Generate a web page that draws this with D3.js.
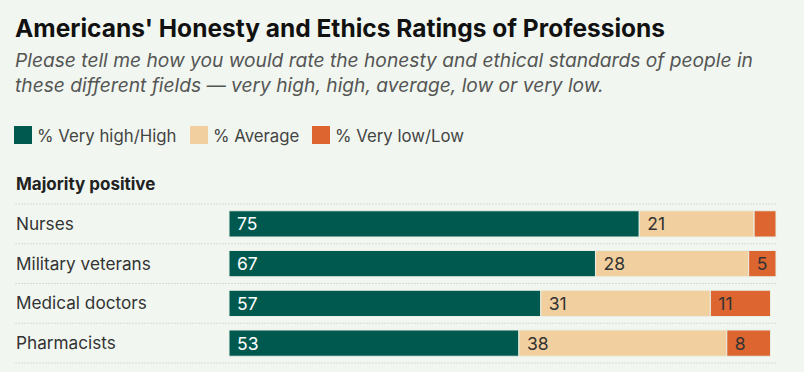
<!DOCTYPE html>
<html>
<head>
<meta charset="utf-8">
<script src="https://cdn.jsdelivr.net/npm/d3@7"></script>
<style>
  body { margin: 0; background: #f1f7f0; }
  svg { display: block; font-family: Inter, "Open Sans", sans-serif; }
</style>
</head>
<body>
<div id="chart"></div>
<script>
var width = 804;
var height = 372;
var bgColor = '#f1f7f0';

// data
var professions = ['Nurses', 'Military veterans', 'Medical doctors', 'Pharmacists'];
var veryHighHigh = [75, 67, 57, 53];
var average = [21, 28, 31, 38];
var veryLowLow = [4, 5, 11, 8];
var seriesKeys = ['high', 'average', 'low'];
var legendLabels = ['% Very high/High', '% Average', '% Very low/Low'];
var colors = ['#00594f', '#f2cf9e', '#dc6530'];
var labelColors = ['#ffffff', '#333333', '#333333'];

var rows = professions.map(function(p, i) {
      return { name: p, high: veryHighHigh[i], average: average[i], low: veryLowLow[i] };
});

var svg = d3.select('#chart').append('svg')
      .attr('width', width)
      .attr('height', height)

svg.append('rect')
      .attr('width', width)
      .attr('height', height)
      .attr('fill', bgColor)

// title and subtitle
svg.append('text')
      .attr('x', 15)
      .attr('y', 37)
      .style('font-size', '24.5px')
      .style('font-weight', 700)
      .style('fill', '#111')
      .text("Americans' Honesty and Ethics Ratings of Professions")

var subtitle = ['Please tell me how you would rate the honesty and ethical standards of people in',
      'these different fields \u2014 very high, high, average, low or very low.'];
svg.selectAll('.subtitle')
      .data(subtitle)
      .enter().append('text')
      .attr('class', 'subtitle')
      .attr('x', 15)
      .attr('y', (d, i) => 67 + i * 25)
      .style('font-size', '19.2px')
      .style('font-style', 'italic')
      .style('fill', '#555')
      .text(d => d)

// legend
var legendX = [14, 190, 312];
var legend = svg.selectAll('.legend')
      .data(legendLabels)
      .enter().append('g')
      .attr('class', 'legend')
      .attr('transform', (d, i) => 'translate(' + legendX[i] + ',126)')
legend.append('rect')
      .attr('width', 18)
      .attr('height', 18)
      .attr('fill', (d, i) => colors[i])
legend.append('text')
      .attr('x', 23)
      .attr('y', 16)
      .style('font-size', '16.8px')
      .style('fill', '#444')
      .text(d => d)

// group heading
svg.append('text')
      .attr('x', 16)
      .attr('y', 190)
      .style('font-size', '17px')
      .style('font-weight', 700)
      .style('fill', '#222')
      .text('Majority positive')

// scales
var xScale = d3.scaleLinear()
      .domain([0, 100])
      .range([229, 776])

var yScale = d3.scaleBand()
      .domain(professions)
      .range([204, 363])
      .paddingInner(0.34)
      .paddingOuter(0.17)

// dotted separators
var sepY = [204].concat(professions.map(p => yScale(p) + yScale.bandwidth() + yScale.step() * 0.17));
svg.selectAll('.sep')
      .data(sepY)
      .enter().append('line')
      .attr('class', 'sep')
      .attr('x1', 15)
      .attr('x2', 777)
      .attr('y1', d => d)
      .attr('y2', d => d)
      .attr('stroke', '#d6dcd5')
      .attr('stroke-width', 1)
      .attr('stroke-dasharray', '2,1')

// stacked bars
var stack = d3.stack().keys(seriesKeys);
var stacked = stack(rows);

var layers = svg.selectAll('.layer')
      .data(stacked)
      .enter().append('g')
      .attr('class', 'layer')

layers.selectAll('rect')
      .data((d, i) => d.map(v => ({ v: v, i: i })))
      .enter().append('rect')
      .attr('x', d => xScale(d.v[0]))
      .attr('y', d => yScale(d.v.data.name))
      .attr('width', d => xScale(d.v[1]) - xScale(d.v[0]))
      .attr('height', yScale.bandwidth())
      .attr('fill', d => colors[d.i])
      .attr('stroke', '#e8efe6')
      .attr('stroke-width', 1)

layers.selectAll('text')
      .data((d, i) => d.map(v => ({ v: v, i: i })).filter(d => d.v[1] - d.v[0] >= 5))
      .enter().append('text')
      .attr('x', d => xScale(d.v[0]) + 8)
      .attr('y', d => yScale(d.v.data.name) + yScale.bandwidth() / 2 + 6.5)
      .style('font-size', '17.5px')
      .style('fill', d => labelColors[d.i])
      .text(d => d.v[1] - d.v[0])

// row labels
svg.selectAll('.rowLabel')
      .data(professions)
      .enter().append('text')
      .attr('class', 'rowLabel')
      .attr('x', 16)
      .attr('y', d => yScale(d) + yScale.bandwidth() / 2 + 6)
      .style('font-size', '17.2px')
      .style('fill', '#333')
      .text(d => d)
</script>
</body>
</html>
